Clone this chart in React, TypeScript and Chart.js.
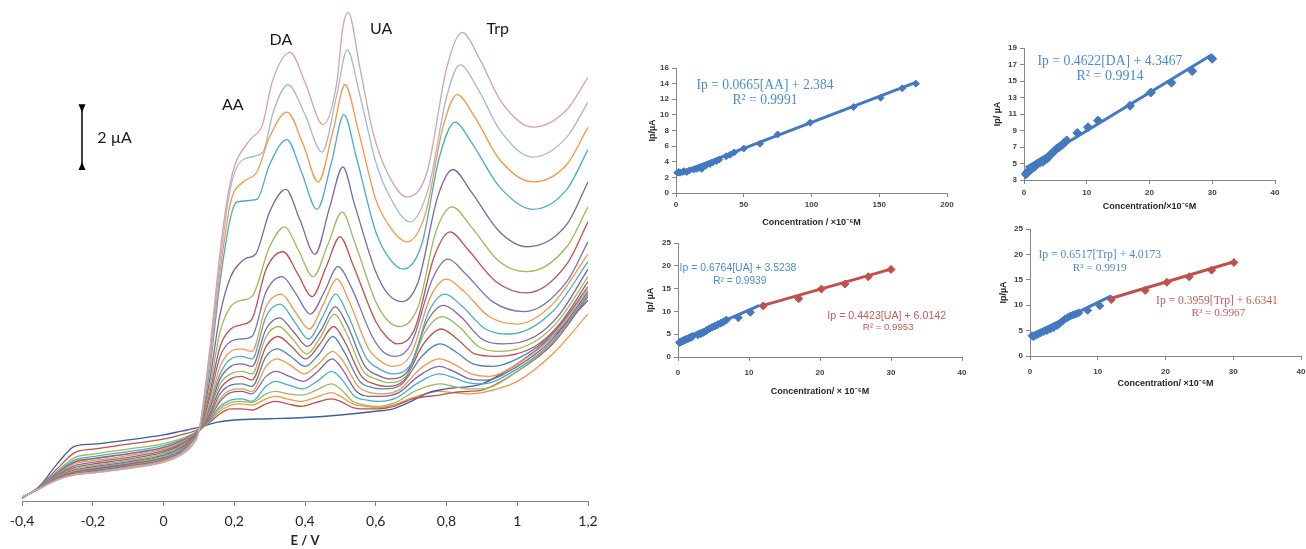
import { useEffect, useRef } from 'react';
import { Chart, registerables } from 'chart.js';
Chart.register(...registerables);

type Pt = [number, number];

// ---------- main voltammogram (E / V vs I / µA) ----------
const xTickLabels = ['-0,4', '-0,2', '0', '0,2', '0,4', '0,6', '0,8', '1', '1,2'];

const c01: Pt[] = [[-0.4,0.15],[-0.35,0.5],[-0.3,0.85],[-0.25,1.05],[-0.2,1.12],[-0.1,1.3],[0,1.55],[0.05,1.85],[0.08,2.2],[0.1,2.8],[0.13,6.0],[0.16,10.0],[0.18,12.1],[0.2,13.4],[0.245,14.5],[0.28,15.1],[0.307,16.8],[0.358,18.0],[0.4,16.8],[0.451,15.1],[0.49,16.8],[0.507,19.0],[0.522,19.6],[0.555,17.4],[0.592,14.8],[0.632,13.2],[0.688,12.2],[0.745,13.2],[0.801,17.4],[0.844,18.8],[0.895,17.7],[0.951,16.1],[1.008,15.2],[1.044,15.0],[1.14,15.7],[1.2,17.0]];
const c02: Pt[] = [[-0.4,0.15],[-0.35,0.5],[-0.3,0.85],[-0.25,1.05],[-0.2,1.13],[-0.1,1.32],[0,1.57],[0.05,1.87],[0.08,2.25],[0.1,2.8],[0.13,5.8],[0.16,9.6],[0.19,12.6],[0.225,13.7],[0.281,14.0],[0.31,15.6],[0.352,16.7],[0.4,15.5],[0.448,14.0],[0.49,16.3],[0.519,18.1],[0.555,16.3],[0.6,13.6],[0.64,12.2],[0.697,11.2],[0.75,12.6],[0.8,16.2],[0.838,17.5],[0.89,16.5],[0.95,14.9],[1.044,13.8],[1.14,14.6],[1.2,16.0]];
const c03: Pt[] = [[-0.4,0.15],[-0.35,0.5],[-0.3,0.87],[-0.25,1.07],[-0.2,1.15],[-0.1,1.35],[0,1.6],[0.05,1.9],[0.08,2.3],[0.1,2.8],[0.13,5.5],[0.16,9.2],[0.19,12.0],[0.225,12.8],[0.264,13.2],[0.3,14.6],[0.349,15.6],[0.395,14.3],[0.437,12.8],[0.48,14.9],[0.513,16.7],[0.55,14.9],[0.6,12.1],[0.64,11.0],[0.688,10.4],[0.74,11.5],[0.79,15.0],[0.83,16.3],[0.88,15.4],[0.95,13.7],[1.044,12.8],[1.14,13.5],[1.2,15.0]];
const c04: Pt[] = [[-0.4,0.15],[-0.35,0.5],[-0.3,0.88],[-0.25,1.08],[-0.2,1.17],[-0.1,1.37],[0,1.62],[0.05,1.92],[0.08,2.35],[0.1,2.8],[0.13,5.2],[0.16,8.8],[0.19,11.4],[0.208,12.0],[0.264,12.1],[0.3,13.5],[0.349,14.5],[0.39,13.2],[0.434,11.7],[0.475,13.6],[0.51,15.5],[0.545,13.8],[0.6,10.8],[0.635,9.8],[0.677,9.3],[0.73,10.3],[0.78,13.8],[0.824,15.2],[0.87,14.4],[0.95,12.6],[1.044,11.7],[1.14,12.5],[1.2,14.1]];
const c05: Pt[] = [[-0.4,0.15],[-0.35,0.5],[-0.3,0.9],[-0.25,1.1],[-0.2,1.2],[-0.1,1.4],[0,1.65],[0.05,1.95],[0.08,2.4],[0.1,2.8],[0.13,4.8],[0.16,7.5],[0.19,9.0],[0.22,9.6],[0.236,9.75],[0.26,9.9],[0.3,11.6],[0.346,12.5],[0.385,11.3],[0.428,9.9],[0.47,11.8],[0.507,13.4],[0.54,11.9],[0.6,9.2],[0.635,8.3],[0.674,8.0],[0.72,8.8],[0.775,12.2],[0.818,13.3],[0.87,12.4],[0.95,10.8],[1.027,10.2],[1.14,11.1],[1.2,12.8]];
const c06: Pt[] = [[-0.4,0.15],[-0.35,0.5],[-0.3,0.9],[-0.25,1.12],[-0.2,1.22],[-0.1,1.42],[0,1.68],[0.05,1.98],[0.08,2.45],[0.1,2.8],[0.13,4.5],[0.16,6.8],[0.19,7.8],[0.22,8.05],[0.25,8.2],[0.3,10.2],[0.343,11.0],[0.38,10.1],[0.423,9.0],[0.465,10.3],[0.505,11.6],[0.54,10.4],[0.6,8.0],[0.63,7.3],[0.665,7.0],[0.72,7.8],[0.77,10.8],[0.816,11.8],[0.87,11.0],[0.95,9.6],[1.027,9.2],[1.14,10.2],[1.2,11.8]];
const c07: Pt[] = [[-0.4,0.15],[-0.35,0.5],[-0.3,0.92],[-0.25,1.15],[-0.2,1.25],[-0.1,1.45],[0,1.7],[0.05,2.0],[0.08,2.5],[0.1,2.8],[0.13,4.3],[0.16,6.2],[0.19,6.9],[0.22,7.07],[0.25,7.3],[0.29,9.3],[0.338,10.0],[0.38,9.1],[0.42,8.2],[0.46,9.4],[0.499,10.6],[0.535,9.5],[0.6,7.2],[0.63,6.6],[0.66,6.3],[0.71,6.9],[0.765,9.8],[0.81,10.8],[0.86,10.1],[0.94,8.8],[1.027,8.35],[1.14,9.5],[1.2,11.2]];
const c08: Pt[] = [[-0.4,0.15],[-0.35,0.5],[-0.3,0.93],[-0.25,1.17],[-0.2,1.28],[-0.1,1.48],[0,1.73],[0.05,2.03],[0.08,2.52],[0.1,2.8],[0.13,4.1],[0.16,5.8],[0.19,6.4],[0.22,6.5],[0.25,6.6],[0.29,8.4],[0.335,9.0],[0.375,8.3],[0.415,7.5],[0.455,8.4],[0.493,9.4],[0.53,8.6],[0.59,6.6],[0.62,6.0],[0.655,5.8],[0.7,6.3],[0.76,8.9],[0.804,9.7],[0.855,9.1],[0.93,8.0],[1.02,7.6],[1.14,8.8],[1.2,10.4]];
const c09: Pt[] = [[-0.4,0.15],[-0.35,0.5],[-0.3,0.95],[-0.25,1.2],[-0.2,1.3],[-0.1,1.5],[0,1.76],[0.05,2.05],[0.1,2.8],[0.13,3.9],[0.16,5.4],[0.19,6.0],[0.22,6.1],[0.25,6.0],[0.29,7.8],[0.333,8.3],[0.372,7.6],[0.412,6.9],[0.452,7.9],[0.49,8.9],[0.525,8.0],[0.58,6.1],[0.615,5.6],[0.65,5.4],[0.7,5.9],[0.755,8.2],[0.8,8.9],[0.85,8.4],[0.92,7.4],[1.0,7.1],[1.1,7.9],[1.2,9.9]];
const c10: Pt[] = [[-0.4,0.15],[-0.35,0.5],[-0.3,0.96],[-0.25,1.22],[-0.2,1.33],[-0.1,1.53],[0,1.8],[0.05,2.1],[0.1,2.8],[0.13,3.8],[0.16,5.1],[0.19,5.7],[0.22,5.8],[0.25,5.7],[0.29,7.4],[0.33,7.9],[0.37,7.2],[0.41,6.5],[0.45,7.4],[0.487,8.3],[0.52,7.5],[0.575,5.7],[0.61,5.3],[0.645,5.1],[0.7,5.5],[0.75,7.6],[0.796,8.3],[0.845,7.8],[0.91,6.9],[0.98,6.7],[1.1,7.6],[1.2,9.6]];
const c11: Pt[] = [[-0.4,0.15],[-0.35,0.5],[-0.3,0.98],[-0.25,1.25],[-0.2,1.37],[-0.1,1.57],[0,1.84],[0.05,2.15],[0.1,2.8],[0.13,3.7],[0.16,4.9],[0.19,5.4],[0.22,5.5],[0.25,5.4],[0.29,6.9],[0.328,7.35],[0.367,6.8],[0.407,6.2],[0.447,6.9],[0.485,7.8],[0.518,7.1],[0.57,5.4],[0.605,5.05],[0.64,4.9],[0.69,5.2],[0.745,7.2],[0.792,7.85],[0.84,7.4],[0.9,6.5],[0.96,6.3],[1.05,6.6],[1.12,7.5],[1.2,9.3]];
const c12: Pt[] = [[-0.4,0.15],[-0.35,0.5],[-0.3,1.0],[-0.25,1.3],[-0.2,1.42],[-0.1,1.62],[0,1.9],[0.05,2.2],[0.1,2.8],[0.13,3.6],[0.16,4.7],[0.19,5.1],[0.22,5.2],[0.25,5.1],[0.29,6.6],[0.326,7.0],[0.365,6.5],[0.405,5.9],[0.445,6.6],[0.483,7.5],[0.515,6.8],[0.565,5.2],[0.6,4.9],[0.635,4.75],[0.685,5.0],[0.74,6.8],[0.788,7.4],[0.835,7.0],[0.89,6.2],[0.95,6.0],[1.05,6.4],[1.12,7.3],[1.2,9.0]];
const c13: Pt[] = [[-0.4,0.15],[-0.35,0.5],[-0.3,1.02],[-0.25,1.35],[-0.2,1.48],[-0.1,1.68],[0,1.96],[0.05,2.25],[0.1,2.8],[0.13,3.5],[0.16,4.5],[0.19,4.9],[0.22,5.0],[0.25,4.85],[0.29,6.2],[0.324,6.6],[0.362,6.2],[0.402,5.7],[0.442,6.3],[0.481,7.0],[0.512,6.4],[0.56,5.0],[0.595,4.7],[0.63,4.6],[0.68,4.85],[0.735,6.3],[0.785,6.9],[0.83,6.5],[0.88,5.9],[0.94,5.8],[1.05,6.2],[1.12,7.1],[1.2,8.8]];
const c14: Pt[] = [[-0.4,0.15],[-0.35,0.52],[-0.3,1.05],[-0.25,1.42],[-0.2,1.55],[-0.1,1.75],[0,2.02],[0.05,2.3],[0.1,2.8],[0.13,3.4],[0.16,4.3],[0.19,4.65],[0.22,4.7],[0.25,4.6],[0.29,5.8],[0.322,6.1],[0.36,5.8],[0.4,5.4],[0.44,5.9],[0.479,6.6],[0.51,6.0],[0.555,4.8],[0.59,4.55],[0.625,4.5],[0.675,4.7],[0.73,5.8],[0.782,6.3],[0.825,6.0],[0.875,5.5],[0.93,5.4],[1.0,5.7],[1.1,6.7],[1.2,8.6]];
const c15: Pt[] = [[-0.4,0.15],[-0.35,0.52],[-0.3,1.08],[-0.25,1.5],[-0.2,1.62],[-0.1,1.82],[0,2.08],[0.05,2.35],[0.1,2.82],[0.13,3.35],[0.16,4.1],[0.19,4.45],[0.22,4.5],[0.25,4.4],[0.29,5.4],[0.32,5.7],[0.358,5.45],[0.398,5.1],[0.438,5.5],[0.478,6.0],[0.508,5.6],[0.55,4.6],[0.585,4.35],[0.62,4.3],[0.67,4.5],[0.725,5.3],[0.78,5.7],[0.82,5.5],[0.87,5.1],[0.92,5.0],[1.0,5.5],[1.1,6.6],[1.2,8.5]];
const c16: Pt[] = [[-0.4,0.15],[-0.35,0.53],[-0.3,1.12],[-0.25,1.58],[-0.2,1.7],[-0.1,1.9],[0,2.15],[0.05,2.4],[0.1,2.82],[0.13,3.3],[0.16,4.0],[0.19,4.35],[0.22,4.4],[0.25,4.3],[0.29,5.0],[0.318,5.2],[0.356,5.0],[0.396,4.8],[0.436,5.2],[0.477,5.7],[0.505,5.3],[0.545,4.4],[0.58,4.2],[0.615,4.2],[0.665,4.35],[0.72,5.0],[0.78,5.4],[0.82,5.2],[0.865,4.9],[0.91,4.85],[1.0,5.4],[1.1,6.5],[1.2,8.4]];
const c17: Pt[] = [[-0.4,0.15],[-0.35,0.54],[-0.3,1.16],[-0.25,1.65],[-0.2,1.78],[-0.1,1.98],[0,2.22],[0.05,2.45],[0.1,2.84],[0.13,3.25],[0.16,3.8],[0.19,4.05],[0.22,4.1],[0.25,4.0],[0.29,4.6],[0.316,4.8],[0.354,4.65],[0.394,4.5],[0.434,4.8],[0.476,5.2],[0.503,4.9],[0.54,4.2],[0.575,4.05],[0.61,4.0],[0.66,4.15],[0.715,4.7],[0.78,5.1],[0.82,4.95],[0.86,4.75],[0.9,4.7],[1.0,5.3],[1.1,6.4],[1.2,8.3]];
const c18: Pt[] = [[-0.4,0.15],[-0.35,0.55],[-0.3,1.2],[-0.25,1.75],[-0.2,1.88],[-0.1,2.08],[0,2.3],[0.05,2.5],[0.1,2.85],[0.13,3.2],[0.16,3.7],[0.19,3.95],[0.22,4.0],[0.25,3.95],[0.29,4.3],[0.315,4.4],[0.352,4.3],[0.392,4.25],[0.432,4.45],[0.475,4.7],[0.5,4.5],[0.535,4.0],[0.57,3.85],[0.605,3.8],[0.655,3.95],[0.71,4.4],[0.78,4.7],[0.82,4.6],[0.86,4.5],[0.9,4.5],[1.0,5.2],[1.1,6.4],[1.2,8.3]];
const c19: Pt[] = [[-0.4,0.12],[-0.35,0.57],[-0.3,1.3],[-0.25,1.95],[-0.2,2.08],[-0.1,2.28],[0,2.48],[0.05,2.65],[0.1,2.88],[0.13,3.15],[0.16,3.5],[0.19,3.7],[0.22,3.7],[0.25,3.65],[0.29,3.9],[0.315,4.0],[0.35,3.9],[0.39,3.8],[0.43,3.95],[0.475,4.1],[0.5,4.0],[0.535,3.75],[0.57,3.7],[0.605,3.7],[0.65,3.8],[0.705,4.1],[0.78,4.25],[0.82,4.35],[0.86,4.4],[0.9,4.45],[1.0,5.2],[1.1,6.3],[1.2,8.2]];
const c20: Pt[] = [[-0.4,0.1],[-0.35,0.6],[-0.3,1.5],[-0.25,2.2],[-0.2,2.28],[-0.1,2.45],[0,2.65],[0.05,2.8],[0.1,2.95],[0.15,3.15],[0.2,3.25],[0.3,3.3],[0.4,3.35],[0.5,3.45],[0.6,3.6],[0.65,3.7],[0.7,4.0],[0.75,4.35],[0.8,4.5],[0.9,4.7],[1.0,5.5],[1.1,6.6],[1.2,8.05]];
const c21: Pt[] = [[-0.4,0.15],[-0.35,0.52],[-0.3,1.1],[-0.25,1.55],[-0.2,1.68],[-0.1,1.88],[0,2.12],[0.05,2.38],[0.1,2.82],[0.13,3.2],[0.16,3.6],[0.19,3.85],[0.22,3.9],[0.25,3.85],[0.29,4.1],[0.315,4.2],[0.35,4.1],[0.39,4.0],[0.43,4.15],[0.475,4.35],[0.5,4.2],[0.535,3.9],[0.57,3.8],[0.605,3.75],[0.65,3.85],[0.705,4.15],[0.78,4.4],[0.82,4.35],[0.86,4.3],[0.9,4.35],[1.0,4.8],[1.1,5.9],[1.2,7.5]];

const curves: Pt[][] = [c01, c02, c03, c04, c05, c06, c07, c08, c09, c10, c11, c12, c13, c14, c15, c16, c17, c18, c19, c20, c21];
const curveColors = ['#D4A3A9', '#A3B9D6', '#F79646', '#4BACC6', '#8064A2', '#9BBB59', '#C0504D', '#7473B5', '#F79646', '#4BACC6', '#8064A2', '#9BBB59', '#C0504D', '#4F81BD', '#F79646', '#8064A2', '#4BACC6', '#9BBB59', '#C0504D', '#3A5DA8', '#F79646'];

// ---------- calibration plots ----------
const aaConc = [1, 2, 3, 5, 6, 8, 10, 13, 15, 17, 19, 22, 25, 27, 30, 32, 37, 40, 43, 50, 62, 75, 99, 131, 151, 167, 177];
const aaIp = [2.6, 2.7, 2.6, 2.7, 2.8, 2.7, 2.9, 3.0, 3.1, 3.2, 3.1, 3.5, 3.7, 3.9, 4.1, 4.3, 4.7, 4.9, 5.2, 5.7, 6.3, 7.5, 9.0, 11.0, 12.2, 13.4, 14.0];
const aaTrendX = [1, 177];
const aaTrendY = [2.45, 14.16];

const daConc = [0.3, 0.5, 0.7, 1.0, 1.2, 1.5, 1.8, 2.0, 2.5, 3.0, 3.3, 3.7, 4.0, 4.4, 4.8, 5.2, 5.6, 6.0, 6.4, 6.8, 8.5, 10.2, 11.8, 16.9, 20.2, 23.5, 26.8, 30.0];
const daIp = [3.7, 3.9, 4.1, 4.2, 4.4, 4.5, 4.7, 4.9, 5.1, 5.2, 5.4, 5.6, 5.9, 6.2, 6.5, 6.8, 7.0, 7.2, 7.5, 7.8, 8.7, 9.4, 10.2, 12.0, 13.6, 14.8, 16.2, 17.7];
const daTrendX = [0.3, 30];
const daTrendY = [4.49, 18.21];

const uaConcLow = [0.2, 0.4, 0.6, 0.8, 1.0, 1.2, 1.5, 1.8, 2.0, 2.8, 3.2, 3.6, 4.0, 4.4, 4.8, 5.2, 5.6, 6.0, 6.4, 6.8, 8.5, 10.2];
const uaIpLow = [3.2, 3.3, 3.5, 3.6, 3.8, 3.9, 4.1, 4.3, 4.5, 4.9, 5.1, 5.4, 5.8, 6.2, 6.5, 6.8, 7.1, 7.4, 7.7, 8.1, 8.6, 9.8];
const uaConcHigh = [12, 17, 20.2, 23.5, 26.8, 30];
const uaIpHigh = [11.2, 12.8, 14.9, 16.0, 17.6, 19.2];
const uaTrendLowX = [0.2, 11.5];
const uaTrendLowY = [3.66, 11.3];
const uaTrendHighX = [12, 30];
const uaTrendHighY = [11.32, 19.28];

const trpConcLow = [0.3, 0.5, 0.8, 1.0, 1.3, 1.6, 2.0, 2.5, 3.0, 3.5, 4.0, 4.4, 4.8, 5.2, 5.6, 6.0, 6.4, 6.8, 7.2, 8.5, 10.3];
const trpIpLow = [4.0, 3.8, 4.1, 4.2, 4.4, 4.6, 4.8, 5.0, 5.3, 5.6, 6.0, 6.4, 6.9, 7.3, 7.6, 7.9, 8.1, 8.3, 8.5, 9.0, 9.9];
const trpConcHigh = [12, 17, 20.2, 23.5, 26.8, 30.1];
const trpIpHigh = [11.1, 12.9, 14.5, 15.6, 16.9, 18.4];
const trpTrendLowX = [0.3, 12];
const trpTrendLowY = [4.21, 11.84];
const trpTrendHighX = [12, 30.1];
const trpTrendHighY = [11.38, 18.55];

const BLUE = '#4279C0';
const RED = '#C0504D';
const EQ_BLUE = '#4A8AD4';
const EQ_RED = '#C85A5A';
const AXIS = '#868686';

type Label = { text: string; x: number; y: number; color: string; size: number; family: string; weight?: string; width?: number; align?: CanvasTextAlign };

function textPlugin(labels: Label[], arrow?: { x: number; y1: number; y2: number }) {
  return {
    id: 'texts',
    afterDatasetsDraw(chart: any) {
      const { ctx, scales } = chart;
      ctx.save();
      for (const l of labels) {
        const px = scales.x.getPixelForValue(l.x);
        const py = scales.y.getPixelForValue(l.y);
        let size = l.size;
        const w = l.weight ?? 'normal';
        ctx.font = `${w} ${size}px ${l.family}`;
        if (l.width) {
          const m = ctx.measureText(l.text).width;
          size = size * l.width / m;
          ctx.font = `${w} ${size}px ${l.family}`;
        }
        ctx.fillStyle = l.color;
        ctx.textAlign = l.align ?? 'center';
        ctx.textBaseline = 'middle';
        ctx.fillText(l.text, px, py);
      }
      if (arrow) {
        const ax = scales.x.getPixelForValue(arrow.x);
        const ay1 = scales.y.getPixelForValue(arrow.y1);
        const ay2 = scales.y.getPixelForValue(arrow.y2);
        ctx.strokeStyle = '#000';
        ctx.fillStyle = '#000';
        ctx.lineWidth = 1.5;
        ctx.beginPath();
        ctx.moveTo(ax, ay1 - 5);
        ctx.lineTo(ax, ay2 + 5);
        ctx.stroke();
        const head = (y: number, dir: number) => {
          ctx.beginPath();
          ctx.moveTo(ax, y);
          ctx.lineTo(ax - 3.5, y - dir * 8);
          ctx.lineTo(ax + 3.5, y - dir * 8);
          ctx.closePath();
          ctx.fill();
        };
        head(ay1, 1);
        head(ay2, -1);
      }
      ctx.restore();
    },
  };
}

function ChartCanvas({ left, top, width, height, build }: { left: number; top: number; width: number; height: number; build: () => any }) {
  const ref = useRef<HTMLCanvasElement>(null);
  useEffect(() => {
    const chart = new Chart(ref.current as HTMLCanvasElement, build());
    return () => chart.destroy();
  }, []);
  return (
    <canvas ref={ref} width={width} height={height} style={{ position: 'absolute', left, top, width, height }} />
  );
}

function buildMain() {
  const datasets = curves.map((c, i) => ({
    data: c.map(([x, y]) => ({ x, y })),
    borderColor: curveColors[i],
    backgroundColor: curveColors[i],
    borderWidth: 1.3,
    pointRadius: 0,
    showLine: true,
    fill: false,
    cubicInterpolationMode: 'monotone',
  }));
  const labels: Label[] = [
    { text: 'AA', x: 0.196, y: 15.9, color: '#1a1a1a', size: 16, family: 'Lato' },
    { text: 'DA', x: 0.332, y: 18.5, color: '#1a1a1a', size: 16, family: 'Lato' },
    { text: 'UA', x: 0.615, y: 18.95, color: '#1a1a1a', size: 16, family: 'Lato' },
    { text: 'Trp', x: 0.945, y: 18.95, color: '#1a1a1a', size: 16, family: 'Lato' },
    { text: '2 µA', x: -0.187, y: 14.55, color: '#1a1a1a', size: 16, family: 'Lato', align: 'left' },
  ];
  return {
    type: 'scatter',
    data: { datasets },
    options: {
      animation: false,
      responsive: false,
      devicePixelRatio: 1,
      layout: { padding: { left: 22, right: 12, top: 0, bottom: 0 } },
      plugins: { legend: { display: false }, tooltip: { enabled: false } },
      scales: {
        x: {
          type: 'linear', min: -0.4, max: 1.2,
          ticks: { stepSize: 0.2, padding: 7, color: '#262626', font: { family: 'Lato', size: 14 }, callback: (_v: any, i: number) => xTickLabels[i] },
          grid: { display: true, drawOnChartArea: false, drawTicks: true, tickLength: 5, color: AXIS },
          border: { display: true, color: AXIS },
          title: { display: true, text: 'E / V', color: '#262626', font: { family: 'Lato', size: 13, weight: 'bold' }, padding: { top: 0, bottom: 0 } },
          afterFit: (s: any) => { s.height = 48; s.paddingLeft = 0; s.paddingRight = 0; },
        },
        y: { type: 'linear', display: false, min: 0, max: 20.1 },
      },
    },
    plugins: [textPlugin(labels, { x: -0.2304, y1: 15.6, y2: 13.6 })],
  };
}

type SmallOpts = {
  xMax: number; xStep: number; yMin: number; yMax: number; yStep: number;
  xTitle: string; yTitle: string; datasets: any[]; labels: Label[];
  yWidth: number; xHeight: number; padTop: number; padRight: number;
  xTickPad: number; xTitlePadBottom: number; yTitlePadTop: number;
};

function scatterSet(xs: number[], ys: number[], color: string, radius: number) {
  return {
    data: xs.map((x, i) => ({ x, y: ys[i] })),
    pointStyle: 'rectRot', pointRadius: radius, pointBackgroundColor: color, pointBorderColor: color,
    borderColor: color, backgroundColor: color, showLine: false, clip: false,
  };
}
function trendSet(xs: number[], ys: number[], color: string) {
  return {
    data: xs.map((x, i) => ({ x, y: ys[i] })),
    showLine: true, borderColor: color, borderWidth: 3, pointRadius: 0, fill: false, clip: false,
  };
}

function buildSmall(o: SmallOpts) {
  const tickFont = { family: 'Liberation Sans', size: 8, weight: 'bold' };
  const titleFont = { family: "'Liberation Sans', 'Noto Sans', 'DejaVu Sans'", size: 9, weight: 'bold' };
  return () => ({
    type: 'scatter',
    data: { datasets: o.datasets },
    options: {
      animation: false,
      responsive: false,
      devicePixelRatio: 1,
      layout: { padding: { left: 0, right: o.padRight, top: o.padTop, bottom: 0 } },
      plugins: { legend: { display: false }, tooltip: { enabled: false } },
      scales: {
        x: {
          type: 'linear', min: 0, max: o.xMax,
          ticks: { stepSize: o.xStep, padding: o.xTickPad, color: '#404040', font: tickFont },
          grid: { display: true, drawOnChartArea: false, drawTicks: true, tickLength: 4, color: AXIS },
          border: { display: true, color: AXIS },
          title: { display: true, text: o.xTitle, color: '#262626', font: titleFont, padding: { top: 0, bottom: o.xTitlePadBottom } },
          afterFit: (s: any) => { s.height = o.xHeight; s.paddingLeft = 0; s.paddingRight = 0; },
        },
        y: {
          type: 'linear', min: o.yMin, max: o.yMax,
          ticks: { stepSize: o.yStep, padding: 3, color: '#404040', font: tickFont },
          grid: { display: true, drawOnChartArea: false, drawTicks: true, tickLength: 4, color: AXIS },
          border: { display: true, color: AXIS },
          title: { display: true, text: o.yTitle, color: '#262626', font: titleFont, padding: { top: o.yTitlePadTop, bottom: 0 } },
          afterFit: (s: any) => { s.width = o.yWidth; s.paddingTop = 0; s.paddingBottom = 0; },
        },
      },
    },
    plugins: [textPlugin(o.labels)],
  });
}

const SERIF = 'Liberation Serif';
const SANS = 'Liberation Sans';

const buildAA = buildSmall({
  xMax: 200, xStep: 50, yMin: 0, yMax: 16, yStep: 2,
  xTitle: 'Concentration / ×10⁻⁶M', yTitle: 'Ip/µA',
  datasets: [trendSet(aaTrendX, aaTrendY, BLUE), scatterSet(aaConc, aaIp, BLUE, 3.5)],
  labels: [
    { text: 'Ip = 0.0665[AA] + 2.384', x: 65.7, y: 13.8, color: EQ_BLUE, size: 13, family: SERIF, width: 137 },
    { text: 'R² = 0.9991', x: 65.7, y: 11.9, color: EQ_BLUE, size: 13, family: SERIF, width: 65 },
  ],
  yWidth: 46, xHeight: 47, padTop: 28, padRight: 23, xTickPad: 3, xTitlePadBottom: 12, yTitlePadTop: 17,
});

const buildDA = buildSmall({
  xMax: 40, xStep: 10, yMin: 3, yMax: 19, yStep: 2,
  xTitle: 'Concentration/×10⁻⁶M', yTitle: 'Ip/ µA',
  datasets: [trendSet(daTrendX, daTrendY, BLUE), scatterSet(daConc, daIp, BLUE, 4.5)],
  labels: [
    { text: 'Ip = 0.4622[DA] + 4.3467', x: 13.7, y: 17.4, color: EQ_BLUE, size: 13, family: SERIF, width: 145 },
    { text: 'R² = 0.9914', x: 13.7, y: 15.6, color: EQ_BLUE, size: 13, family: SERIF, width: 67 },
  ],
  yWidth: 44, xHeight: 60, padTop: 28, padRight: 25, xTickPad: 4, xTitlePadBottom: 28, yTitlePadTop: 12,
});

const buildUA = buildSmall({
  xMax: 40, xStep: 10, yMin: 0, yMax: 25, yStep: 5,
  xTitle: 'Concentration/ × 10⁻⁶M', yTitle: 'Ip/ µA',
  datasets: [
    trendSet(uaTrendLowX, uaTrendLowY, BLUE), trendSet(uaTrendHighX, uaTrendHighY, RED),
    scatterSet(uaConcLow, uaIpLow, BLUE, 4), scatterSet(uaConcHigh, uaIpHigh, RED, 4),
  ],
  labels: [
    { text: 'Ip = 0.6764[UA] + 3.5238', x: 8.45, y: 19.5, color: EQ_BLUE, size: 10, family: SANS, width: 117 },
    { text: 'R² = 0.9939', x: 8.7, y: 16.7, color: EQ_BLUE, size: 10, family: SANS, width: 53 },
    { text: 'Ip = 0.4423[UA] + 6.0142', x: 29.4, y: 9.0, color: EQ_RED, size: 10, family: SANS, width: 119 },
    { text: 'R² = 0.9953', x: 29.6, y: 6.4, color: EQ_RED, size: 10, family: SANS, width: 51 },
  ],
  yWidth: 48, xHeight: 53, padTop: 13, padRight: 18, xTickPad: 7, xTitlePadBottom: 13, yTitlePadTop: 15,
});

const buildTrp = buildSmall({
  xMax: 40, xStep: 10, yMin: 0, yMax: 25, yStep: 5,
  xTitle: 'Concentration/ ×10⁻⁶M', yTitle: 'Ip/µA',
  datasets: [
    trendSet(trpTrendLowX, trpTrendLowY, BLUE), trendSet(trpTrendHighX, trpTrendHighY, RED),
    scatterSet(trpConcLow, trpIpLow, BLUE, 4), scatterSet(trpConcHigh, trpIpHigh, RED, 4),
  ],
  labels: [
    { text: 'Ip = 0.6517[Trp] + 4.0173', x: 10.3, y: 19.9, color: EQ_BLUE, size: 12, family: SERIF, width: 123 },
    { text: 'R² = 0.9919', x: 10.3, y: 17.3, color: EQ_BLUE, size: 12, family: SERIF, width: 54 },
    { text: 'Ip = 0.3959[Trp] + 6.6341', x: 27.6, y: 10.8, color: EQ_RED, size: 12, family: SERIF, width: 122 },
    { text: 'R² = 0.9967', x: 27.8, y: 8.5, color: EQ_RED, size: 12, family: SERIF, width: 54 },
  ],
  yWidth: 40, xHeight: 54, padTop: 19, padRight: 4, xTickPad: 7, xTitlePadBottom: 21, yTitlePadTop: 8,
});

export default function App() {
  return (
    <div style={{ position: 'absolute', left: 0, top: 0, width: 1306, height: 549, background: '#fff', overflow: 'hidden' }}>
      <ChartCanvas left={0} top={0} width={600} height={549} build={buildMain} />
      <ChartCanvas left={630} top={40} width={340} height={200} build={buildAA} />
      <ChartCanvas left={980} top={20} width={320} height={220} build={buildDA} />
      <ChartCanvas left={630} top={230} width={350} height={180} build={buildUA} />
      <ChartCanvas left={990} top={210} width={316} height={200} build={buildTrp} />
    </div>
  );
}
